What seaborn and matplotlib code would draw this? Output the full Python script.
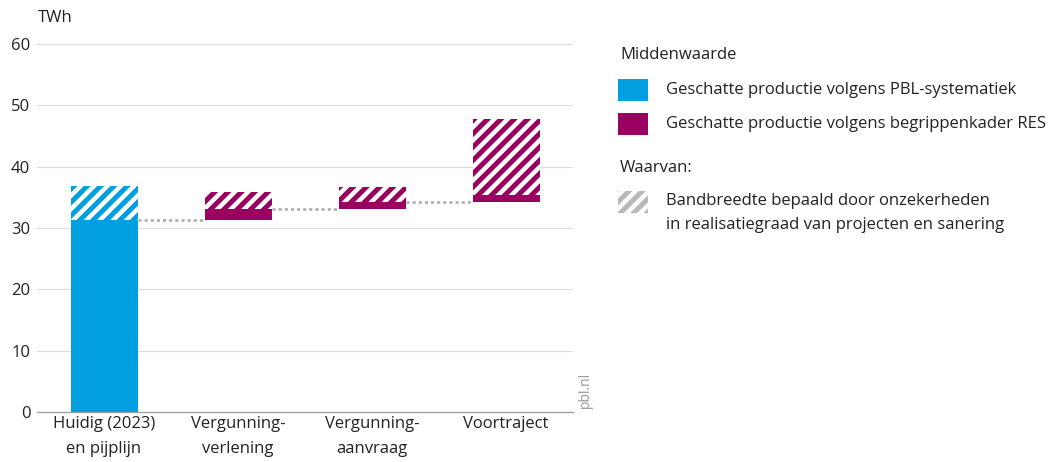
import seaborn as sns
import pandas as pd
import matplotlib.pyplot as plt
from matplotlib.patches import Rectangle

sns.set_style("white")
plt.rcParams['font.family'] = ['Open Sans', 'DejaVu Sans']
plt.rcParams['hatch.linewidth'] = 4.0

# data (TWh)
categories = ["Huidig (2023)\nen pijplijn", "Vergunning-\nverlening",
              "Vergunning-\naanvraag", "Voortraject"]
mid_low = [0.0, 31.3, 33.1, 34.2]
mid_high = [31.3, 33.1, 34.2, 35.3]
band_high = [36.8, 35.9, 36.7, 47.7]
kind = ["PBL", "RES", "RES", "RES"]

Blue = '#009FDF'
Purple = '#990060'
Gray = '#b8b8b8'
colors = {"PBL": Blue, "RES": Purple}
TextColor = '#222222'
FS = 15

DPI = 80
fig = plt.figure(figsize=(1056 / DPI, 462 / DPI), dpi=DPI)
ax = fig.add_axes([37 / 1056, 1 - 412 / 462, 536 / 1056, 368 / 462])

for i in range(len(categories)):
    c = colors[kind[i]]
    # middenwaarde
    sns.barplot(x=[categories[i]], y=[mid_high[i] - mid_low[i]], bottom=mid_low[i],
                order=categories, color=c, saturation=1, width=0.5,
                linewidth=0, edgecolor=c, ax=ax, zorder=3)
    # bandbreedte
    sns.barplot(x=[categories[i]], y=[band_high[i] - mid_high[i]], bottom=mid_high[i],
                order=categories, color=c, saturation=1, width=0.5,
                linewidth=0, edgecolor='white', hatch='//', ax=ax, zorder=3)

# dotted connectors
for i in range(len(categories) - 1):
    ax.plot([i + 0.25, i + 1 - 0.25], [mid_high[i], mid_high[i]],
            color='#aaaaaa', linewidth=2.3, linestyle=(0, (1.2, 1.2)),
            solid_capstyle='butt', zorder=2)

ax.set_xlim(-0.5, 3.5)
ax.set_ylim(0, 60)
ax.set_yticks(range(0, 61, 10))
ax.yaxis.grid(True, color='#dddddd', linewidth=1.1, zorder=0)
ax.set_axisbelow(True)
ax.set_xlabel('')
ax.set_ylabel('')
for s in ['top', 'right', 'left']:
    ax.spines[s].set_visible(False)
ax.spines['bottom'].set_color('#a0a0a0')
ax.spines['bottom'].set_linewidth(1.2)
ax.tick_params(axis='both', length=0, labelsize=FS, labelcolor=TextColor)
ax.tick_params(axis='y', pad=6)
ax.tick_params(axis='x', pad=4)
for lab in ax.get_xticklabels():
    lab.set_linespacing(1.7)

fig.text(38 / 1056, 1 - 18 / 462, 'TWh', fontsize=FS, color=TextColor, va='center')
fig.text(585 / 1056, 1 - 408 / 462, 'pbl.nl', fontsize=12.5, color='#999999',
         rotation=90, ha='center', va='bottom')

# legend
def fy(px):
    return 1 - px / 462

fig.text(620 / 1056, fy(55), 'Middenwaarde', fontsize=FS, color=TextColor, va='center')
fig.patches.append(Rectangle((618 / 1056, fy(101)), 30 / 1056, 22 / 462,
                             transform=fig.transFigure, facecolor=Blue, linewidth=0))
fig.text(666 / 1056, fy(90), 'Geschatte productie volgens PBL-systematiek',
         fontsize=FS, color=TextColor, va='center')
fig.patches.append(Rectangle((618 / 1056, fy(135)), 30 / 1056, 22 / 462,
                             transform=fig.transFigure, facecolor=Purple, linewidth=0))
fig.text(666 / 1056, fy(124), 'Geschatte productie volgens begrippenkader RES',
         fontsize=FS, color=TextColor, va='center')
fig.text(620 / 1056, fy(168), 'Waarvan:', fontsize=FS, color=TextColor, va='center')
fig.patches.append(Rectangle((618 / 1056, fy(213)), 30 / 1056, 22 / 462,
                             transform=fig.transFigure, facecolor=Gray,
                             edgecolor='white', hatch='//', linewidth=0))
fig.text(666 / 1056, fy(213), 'Bandbreedte bepaald door onzekerheden\n'
         'in realisatiegraad van projecten en sanering',
         fontsize=FS, color=TextColor, va='center', linespacing=1.65)

plt.savefig('out.png', dpi=DPI)
